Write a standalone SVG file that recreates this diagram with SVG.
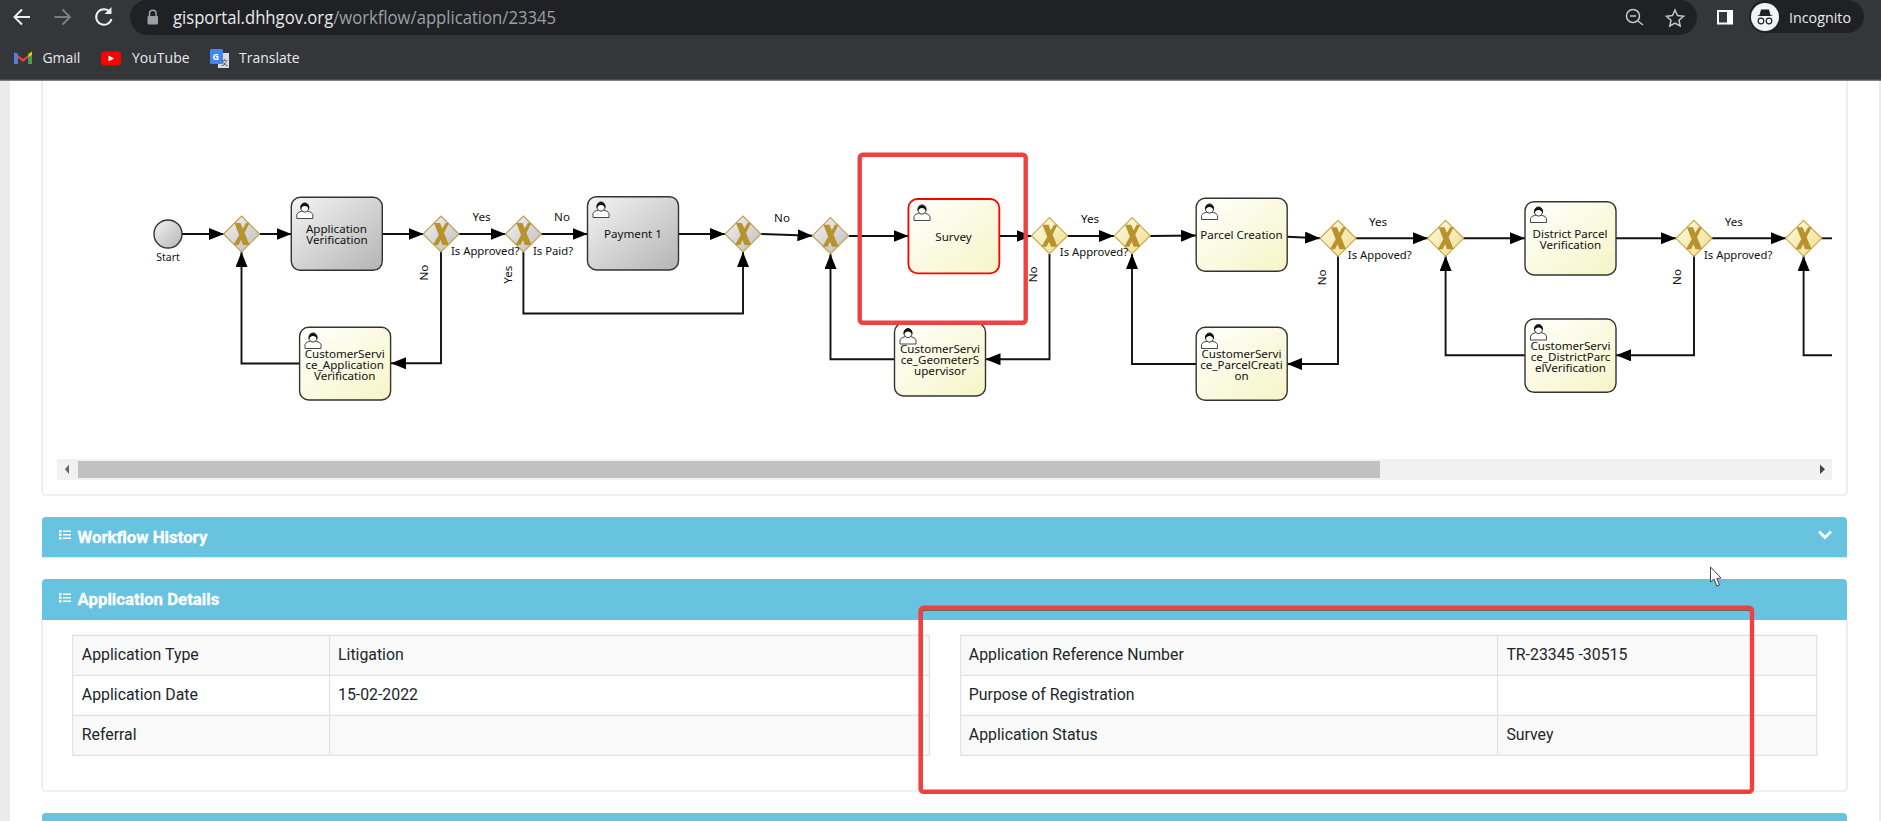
<svg xmlns="http://www.w3.org/2000/svg" width="1881" height="821" viewBox="0 0 1881 821">
<style>
.task{stroke:#333;stroke-width:1.4}
.t{font-family:"Noto Sans","Liberation Sans",sans-serif;font-size:11.6px;fill:#111;text-anchor:middle}
.l{font-family:"Noto Sans","Liberation Sans",sans-serif;font-size:11.3px;fill:#111}
.c{fill:none;stroke:#111;stroke-width:1.9}
.a{marker-end:url(#arr)}
.hd{font-family:Roboto,"Liberation Sans",sans-serif;font-size:16.8px;font-weight:700;fill:#fff;stroke:#fff;stroke-width:0.3}
.td{font-family:Roboto,"Liberation Sans",sans-serif;font-size:15.85px;fill:#212529}
.cell{fill:none;stroke:#dee2e6;stroke-width:1.2}
.chrome{font-family:"Open Sans","Noto Sans",sans-serif;fill:#e8eaed}
.red{fill:none;stroke:#f04040;stroke-width:4.4}
</style>
<defs>
<linearGradient id="gGrey" x1="0" y1="0" x2="1" y2="1"><stop offset="0" stop-color="#f4f4f4"/><stop offset="1" stop-color="#b4b4b4"/></linearGradient>
<linearGradient id="gYel" x1="0" y1="0" x2="1" y2="1"><stop offset="0" stop-color="#ffffff"/><stop offset="1" stop-color="#f5f5c6"/></linearGradient>
<linearGradient id="gGwG" x1="0" y1="0" x2="1" y2="1"><stop offset="0" stop-color="#f4f4f4"/><stop offset="1" stop-color="#bcbcbc"/></linearGradient>
<linearGradient id="gGwY" x1="0" y1="0" x2="1" y2="1"><stop offset="0" stop-color="#fdfbe4"/><stop offset="1" stop-color="#f0dd8c"/></linearGradient>
<marker id="arr" markerUnits="userSpaceOnUse" markerWidth="16" markerHeight="13" refX="15" refY="6" orient="auto"><path d="M0 0L15 6L0 12z" fill="#000"/></marker>
<g id="xm"><path d="M-7 -11H-1L8 11H1.500z M4.500 -11H8L-3 11H-8z" fill="#b8922c"/></g>
<g id="gwG"><path d="M0 -18L18 0L0 18L-18 0z" fill="url(#gGwG)" stroke="#c0a14f" stroke-width="1.2"/><use href="#xm"/></g>
<g id="gwY"><path d="M0 -18L18 0L0 18L-18 0z" fill="url(#gGwY)" stroke="#c9a94a" stroke-width="1.2"/><use href="#xm"/></g>
<g id="usr"><path d="M0.500 15.500V11.500Q1 9 6 8H11Q16 9 16.500 11.500V15.500z" fill="#fff" stroke="#333" stroke-width="0.900"/><ellipse cx="8.500" cy="4.500" rx="4" ry="4.600" fill="#fff" stroke="#222" stroke-width="0.900"/><path d="M4.200 6.500Q3.500 0 8.500 0Q13.500 0 12.800 6.500Q11.500 3 8.500 3Q5.500 3 4.200 6.500z" fill="#111"/></g>
</defs>

<rect width="1881" height="821" fill="#fff"/>
<rect x="0" y="80" width="10" height="741" fill="#ebebeb"/>
<rect x="1879" y="80" width="2" height="741" fill="#ebebeb"/>

<g id="panel-top"><path d="M42 80V491a4 4 0 0 0 4 4H1843a4 4 0 0 0 4 -4V80" fill="#fff" stroke="#e3e3e3" stroke-width="1.2"/>
<rect x="57" y="459" width="1775" height="21" fill="#f1f1f1"/><rect x="78" y="461" width="1302" height="17" fill="#c1c1c1"/>
<path d="M69 464.500V474L65 469.200z" fill="#666"/><path d="M1820 464.500V474L1825 469.200z" fill="#444"/></g>

<g id="connectors">
<path class="c a" d="M182 234H224"/>
<path class="c a" d="M259.500 234H291.500"/>
<path class="c a" d="M382 234H423.500"/>
<path class="c a" d="M459 234H505.500"/>
<path class="c a" d="M541 234H587.500"/>
<path class="c a" d="M678 234H725"/>
<path class="c a" d="M441 252V363.300H391"/>
<path class="c a" d="M300 363.500H241.500V252"/>
<path class="c a" d="M523.400 252V313.500H743V252"/>
<path class="c a" d="M761 234L812.500 235.700"/>
<path class="c a" d="M848.500 236H908.500"/>
<path class="c a" d="M999 236H1031.500"/>
<path class="c a" d="M1067.500 236H1114"/>
<path class="c a" d="M1150 236L1196 235.500"/>
<path class="c a" d="M1287 236.700L1320 238.300"/>
<path class="c a" d="M1355.500 238.300H1428"/>
<path class="c a" d="M1463 238.300H1525"/>
<path class="c a" d="M1616 238.300H1676"/>
<path class="c a" d="M1712 238.300H1786"/>
<path class="c" d="M1821 238.300H1832"/>
<path class="c a" d="M1049.500 254V359.300H985.500"/>
<path class="c a" d="M894.500 359.300H830.500V254"/>
<path class="c a" d="M1338 256V364H1287"/>
<path class="c a" d="M1196 364H1132V254"/>
<path class="c a" d="M1694 256V355.300H1616"/>
<path class="c a" d="M1525 355.300H1445.600V256"/>
<path class="c a" d="M1832 355.300H1803.600V256"/>
</g>

<g id="start"><circle cx="168" cy="234" r="14" fill="url(#gGrey)" stroke="#333" stroke-width="1.4"/><text class="t" x="168" y="260.500" style="font-size:10.500px">Start</text></g>
<g id="gw1"><use href="#gwG" x="241.500" y="234"/></g>
<g id="gw2"><use href="#gwG" x="441" y="234"/></g>
<g id="gw3"><use href="#gwG" x="523.400" y="234"/></g>
<g id="gw4"><use href="#gwG" x="743" y="234"/></g>
<g id="gw5"><use href="#gwG" x="830.500" y="235.700"/></g>
<g id="gw6"><use href="#gwY" x="1049.500" y="235.700"/></g>
<g id="gw7"><use href="#gwY" x="1132.200" y="235.700"/></g>
<g id="gw8"><use href="#gwY" x="1338" y="238.300"/></g>
<g id="gw9"><use href="#gwY" x="1445.600" y="238.300"/></g>
<g id="gw10"><use href="#gwY" x="1694" y="238.300"/></g>
<g id="gw11"><use href="#gwY" x="1803.600" y="238.300"/></g>

<g id="task-app"><rect class="task" x="291.300" y="197.300" width="91" height="73" rx="9" fill="url(#gGrey)"/><use href="#usr" x="296.300" y="203"/><text class="t"><tspan x="336.500" y="233">Application</tspan><tspan x="337" y="244">Verification</tspan></text></g>
<g id="task-pay"><rect class="task" x="587.500" y="196.700" width="91" height="73.300" rx="9" fill="url(#gGrey)"/><use href="#usr" x="592.500" y="202"/><text class="t" x="633" y="238">Payment 1</text></g>
<g id="task-cs1"><rect class="task" x="299.600" y="327.300" width="91" height="72.700" rx="9" fill="url(#gYel)"/><use href="#usr" x="304.500" y="333"/><text class="t"><tspan x="344.700" y="358">CustomerServi</tspan><tspan x="344.700" y="369">ce_Application</tspan><tspan x="344.700" y="380">Verification</tspan></text></g>
<g id="task-survey"><rect x="908.400" y="199" width="90.900" height="74.300" rx="9" fill="url(#gYel)" stroke="#f00" stroke-width="1.800"/><use href="#usr" x="913.500" y="205"/><text class="t" x="953.500" y="241">Survey</text></g>
<g id="task-cs2"><rect class="task" x="894.500" y="323" width="91" height="73" rx="9" fill="url(#gYel)"/><use href="#usr" x="899.500" y="328.500"/><text class="t"><tspan x="940" y="353">CustomerServi</tspan><tspan x="940" y="364">ce_GeometerS</tspan><tspan x="940" y="375">upervisor</tspan></text></g>
<g id="task-parcel"><rect class="task" x="1196.200" y="198.300" width="91" height="73" rx="9" fill="url(#gYel)"/><use href="#usr" x="1201" y="204"/><text class="t" x="1241.500" y="239">Parcel Creation</text></g>
<g id="task-cs3"><rect class="task" x="1196.200" y="327.300" width="91" height="73" rx="9" fill="url(#gYel)"/><use href="#usr" x="1201" y="333"/><text class="t"><tspan x="1241.500" y="358">CustomerServi</tspan><tspan x="1241.500" y="369">ce_ParcelCreati</tspan><tspan x="1241.500" y="380">on</tspan></text></g>
<g id="task-district"><rect class="task" x="1525" y="201.700" width="91" height="73.300" rx="9" fill="url(#gYel)"/><use href="#usr" x="1530" y="207"/><text class="t"><tspan x="1570" y="238">District Parcel</tspan><tspan x="1570.500" y="249">Verification</tspan></text></g>
<g id="task-cs4"><rect class="task" x="1525" y="319" width="91" height="73.300" rx="9" fill="url(#gYel)"/><use href="#usr" x="1530" y="324.500"/><text class="t"><tspan x="1570.500" y="349.500">CustomerServi</tspan><tspan x="1570.500" y="360.500">ce_DistrictParc</tspan><tspan x="1570.500" y="371.500">elVerification</tspan></text></g>

<g id="edge-labels">
<text class="t" x="481.500" y="221">Yes</text>
<text class="l" x="451" y="255">Is Approved?</text>
<text class="t" x="562" y="221">No</text>
<text class="l" x="533" y="255">Is Paid?</text>
<text class="t" transform="translate(428 272.700) rotate(-90)">No</text>
<text class="t" transform="translate(511.500 274.700) rotate(-90)">Yes</text>
<text class="t" x="782" y="222">No</text>
<text class="t" x="1090" y="223">Yes</text>
<text class="l" x="1059.800" y="256">Is Approved?</text>
<text class="t" transform="translate(1037 274.300) rotate(-90)">No</text>
<text class="t" x="1378" y="226">Yes</text>
<text class="l" x="1347.800" y="259">Is Appoved?</text>
<text class="t" transform="translate(1325.500 277.300) rotate(-90)">No</text>
<text class="t" x="1733.800" y="226">Yes</text>
<text class="l" x="1704" y="259">Is Approved?</text>
<text class="t" transform="translate(1681 277) rotate(-90)">No</text>
</g>

<g id="panel-history"><path d="M42 521a4 4 0 0 1 4 -4H1843a4 4 0 0 1 4 4V557.300H42z" fill="#67c3df"/>
<path d="M59 530h2.500v2.500H59zM59 533.500h2.500v2.500H59zM59 537h2.500v2.500H59zM63 530.500h8v1.500h-8zM63 534h8v1.500h-8zM63 537.500h8v1.500h-8z" fill="#fff"/>
<text class="hd" x="77.500" y="543">Workflow History</text>
<path d="M1819 531.500L1825 537.500L1831 531.500" fill="none" stroke="#fff" stroke-width="2.800"/></g>

<g id="panel-details"><path d="M42 620V787a4 4 0 0 0 4 4H1843a4 4 0 0 0 4 -4V620" fill="#fff" stroke="#e3e3e3" stroke-width="1.2"/>
<path d="M42 583a4 4 0 0 1 4 -4H1843a4 4 0 0 1 4 4V620H42z" fill="#67c3df"/>
<path d="M59 593h2.500v2.500H59zM59 596.500h2.500v2.500H59zM59 600h2.500v2.500H59zM63 593.500h8v1.500h-8zM63 597h8v1.500h-8zM63 600.500h8v1.500h-8z" fill="#fff"/>
<text class="hd" x="77.500" y="605">Application Details</text>
<g id="table-left">
<rect x="72.700" y="635.300" width="856.700" height="40" fill="#f9f9f9"/><rect x="72.700" y="715.300" width="856.700" height="40" fill="#f9f9f9"/>
<path class="cell" d="M72.700 635.300H929.400V755.300H72.700zM72.700 675.300H929.400M72.700 715.300H929.400M329.600 635.300V755.300"/>
<text class="td" x="81.800" y="660">Application Type</text><text class="td" x="338" y="660">Litigation</text>
<text class="td" x="81.800" y="700">Application Date</text><text class="td" x="338" y="700">15-02-2022</text>
<text class="td" x="81.800" y="740">Referral</text>
</g>
<g id="table-right">
<rect x="960.700" y="635.300" width="856.100" height="40" fill="#f9f9f9"/><rect x="960.700" y="715.300" width="856.100" height="40" fill="#f9f9f9"/>
<path class="cell" d="M960.700 635.300H1816.800V755.300H960.700zM960.700 675.300H1816.800M960.700 715.300H1816.800M1497.600 635.300V755.300"/>
<text class="td" x="968.800" y="660">Application Reference Number</text><text class="td" x="1506.400" y="660">TR-23345 -30515</text>
<text class="td" x="968.800" y="700">Purpose of Registration</text>
<text class="td" x="968.800" y="740">Application Status</text><text class="td" x="1506.400" y="740">Survey</text>
</g></g>

<g id="panel-next"><path d="M42 821V817a4 4 0 0 1 4 -4H1843a4 4 0 0 1 4 4V821z" fill="#67c3df"/></g>

<g id="highlights">
<rect class="red" x="859.700" y="154.700" width="166" height="168" rx="3"/>
<rect x="922" y="610" width="829" height="183" rx="3" fill="none" stroke="#555" stroke-width="1.600"/>
<rect class="red" x="920.600" y="607.700" width="831.400" height="184" rx="3"/>
</g>

<g id="cursor"><path d="M1710.500 567V582L1714 579L1716.800 586L1719.500 585L1716.800 578.500L1721 578z" fill="#fff" stroke="#333" stroke-width="0.900"/></g>

<g id="browser-chrome">
<rect width="1881" height="80" fill="#35363a"/><rect y="79.500" width="1881" height="1.300" fill="#5f6368"/>
<path d="M147 0H1680a17 17 0 0 1 17 17a18 18 0 0 1 -18 18H147a18 18 0 0 1 -17 -18a17 17 0 0 1 17 -17z" fill="#202124"/>
<path d="M30 17H15M22 9.500L14.500 17L22 24.500" fill="none" stroke="#eceef0" stroke-width="2"/>
<path d="M54.500 17H70M62.500 9.500L70 17L62.500 24.500" fill="none" stroke="#7b7d80" stroke-width="2"/>
<path d="M110 12A7.800 7.800 0 1 0 111.500 19" fill="none" stroke="#eceef0" stroke-width="2"/><path d="M111.500 7V14H104.500z" fill="#eceef0"/>
<path d="M149.500 16V13.500a3.300 3.300 0 0 1 6.600 0V16" fill="none" stroke="#9aa0a6" stroke-width="1.500"/><rect x="147.500" y="16" width="10.500" height="8.500" rx="1" fill="#9aa0a6"/>
<text class="chrome" x="173" y="24" style="font-size:17.500px" textLength="383" lengthAdjust="spacingAndGlyphs">gisportal.dhhgov.org<tspan fill="#9aa0a6">/workflow/application/23345</tspan></text>
<circle cx="1633" cy="16" r="6.500" fill="none" stroke="#c4c7ca" stroke-width="1.500"/><path d="M1630 16H1636M1638 21L1643 25" fill="none" stroke="#c4c7ca" stroke-width="1.500"/>
<path d="M1675 10L1677.500 15.500L1683.500 16.200L1679 20.200L1680.200 26L1675 23L1669.800 26L1671 20.200L1666.500 16.200L1672.500 15.500z" fill="none" stroke="#c4c7ca" stroke-width="1.500"/>
<rect x="1717" y="10" width="16" height="14.500" fill="#fff"/><rect x="1719" y="12" width="8" height="10.500" fill="#35363a"/>
<rect x="1749" y="0" width="115" height="33" rx="16.500" fill="#202124"/>
<circle cx="1765" cy="17" r="14" fill="#f1f3f4"/>
<path d="M1757 16H1773L1770.500 15L1769 9.500H1761L1759.500 15z" fill="#202124"/><circle cx="1761" cy="21" r="2.800" fill="none" stroke="#202124" stroke-width="1.200"/><circle cx="1769" cy="21" r="2.800" fill="none" stroke="#202124" stroke-width="1.200"/>
<text class="chrome" x="1789" y="22.500" style="font-size:15px" textLength="62" lengthAdjust="spacingAndGlyphs">Incognito</text>
<path d="M14 64V52L23 59L32 52V64H28V58L23 62L18 58V64z" fill="#ea4335"/><path d="M14 64V53h3.500V64z" fill="#4285f4"/><path d="M28.500 64V53H32V64z" fill="#34a853"/><path d="M28.500 54L32 51.500V55L28.500 57z" fill="#fbbc04"/>
<text class="chrome" x="42.400" y="63" style="font-size:14px">Gmail</text>
<rect x="101" y="51.500" width="20" height="14" rx="4" fill="#f00"/><path d="M108.500 55.500V61.500L114 58.500z" fill="#fff"/>
<text class="chrome" x="132" y="63" style="font-size:14px">YouTube</text>
<rect x="218" y="53" width="11" height="15" fill="#dadce0"/><rect x="210" y="49" width="13" height="15" rx="1.500" fill="#4285f4"/>
<text x="212.500" y="60" style="font-family:'Open Sans',sans-serif;font-size:9px;font-weight:700" fill="#fff">G</text><text x="221" y="65" style="font-family:'Noto Sans CJK SC',sans-serif;font-size:7px" fill="#444">文</text>
<text class="chrome" x="239" y="63" style="font-size:14px">Translate</text>
</g>
</svg>
